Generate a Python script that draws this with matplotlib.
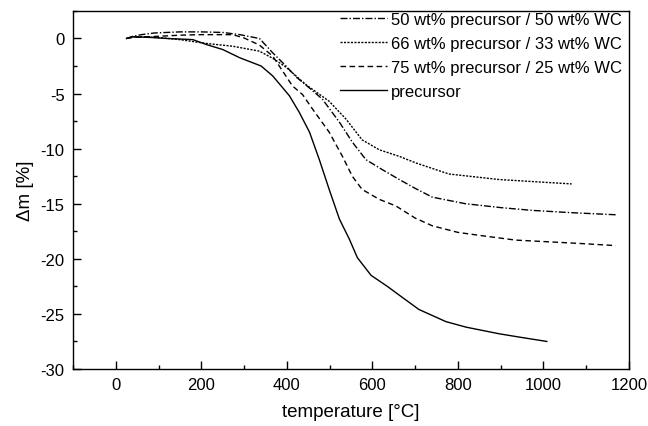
import matplotlib
matplotlib.use("Agg")
import matplotlib.pyplot as plt
from matplotlib.ticker import MultipleLocator

plt.rcParams['font.family'] = ['Liberation Sans', 'DejaVu Sans']
plt.rcParams['axes.unicode_minus'] = False

# 50 wt% precursor / 50 wt% WC (dash-dot)
t_5050 = [25, 40, 60, 90, 150, 200, 250, 290, 336, 367, 398, 422, 450, 483, 523, 553, 585, 623, 663, 700, 740, 818, 900, 973, 1060, 1169]
m_5050 = [0.0, 0.2, 0.35, 0.5, 0.6, 0.6, 0.55, 0.35, 0.0, -1.3, -2.5, -3.5, -4.4, -5.5, -7.6, -9.4, -11.0, -11.9, -12.8, -13.6, -14.4, -15.0, -15.35, -15.6, -15.8, -16.0]

# 66 wt% precursor / 33 wt% WC (dotted)
t_6633 = [25, 40, 70, 110, 149, 212, 273, 336, 367, 398, 445, 499, 538, 576, 616, 663, 702, 779, 896, 980, 1066]
m_6633 = [0.0, 0.15, 0.15, 0.05, -0.1, -0.45, -0.7, -1.15, -1.8, -2.6, -4.2, -5.7, -7.3, -9.2, -10.1, -10.7, -11.3, -12.3, -12.8, -13.0, -13.2]

# 75 wt% precursor / 25 wt% WC (dashed)
t_7525 = [25, 40, 70, 100, 150, 200, 273, 300, 336, 367, 413, 437, 460, 499, 530, 553, 576, 616, 655, 700, 740, 800, 856, 935, 1083, 1169]
m_7525 = [0.0, 0.1, 0.15, 0.2, 0.3, 0.35, 0.35, 0.05, -0.6, -1.6, -4.3, -5.1, -6.4, -8.5, -10.7, -12.5, -13.7, -14.6, -15.2, -16.3, -17.0, -17.6, -17.9, -18.3, -18.6, -18.8]

# precursor (solid)
t_prec = [25, 40, 80, 120, 180, 212, 250, 290, 340, 367, 406, 429, 453, 476, 499, 523, 546, 565, 597, 635, 670, 709, 772, 819, 896, 943, 1008]
m_prec = [0.0, 0.15, 0.1, 0.0, -0.1, -0.55, -1.0, -1.75, -2.5, -3.4, -5.2, -6.7, -8.5, -11.0, -13.7, -16.4, -18.2, -19.9, -21.5, -22.5, -23.5, -24.6, -25.7, -26.2, -26.8, -27.1, -27.5]

labels = ["50 wt% precursor / 50 wt% WC",
          "66 wt% precursor / 33 wt% WC",
          "75 wt% precursor / 25 wt% WC",
          "precursor"]

fig = plt.figure(figsize=(6.48, 4.27), dpi=100)
ax = fig.add_axes([0.1127, 0.1335, 0.8579, 0.8385])

lw = 1.0
ax.plot(t_5050, m_5050, color='black', lw=lw, linestyle=(0, (5, 1.5, 1, 1.5)), label=labels[0])
ax.plot(t_6633, m_6633, color='black', lw=lw, linestyle=(0, (1.5, 1)), label=labels[1])
ax.plot(t_7525, m_7525, color='black', lw=lw, linestyle=(0, (4, 2.5)), label=labels[2])
ax.plot(t_prec, m_prec, color='black', lw=lw, linestyle='-', label=labels[3])

ax.set_xlim(-100, 1200)
ax.set_ylim(-30, 2.5)
ax.xaxis.set_major_locator(MultipleLocator(200))
ax.xaxis.set_minor_locator(MultipleLocator(100))
ax.yaxis.set_major_locator(MultipleLocator(5))
ax.yaxis.set_minor_locator(MultipleLocator(2.5))
ax.tick_params(which='both', direction='in', top=False, right=False, labelsize=12)
ax.tick_params(which='major', length=6, width=1)
ax.tick_params(which='minor', length=3, width=1)
ax.tick_params(axis='x', pad=6)
ax.tick_params(axis='y', pad=6)
for s in ax.spines.values():
    s.set_linewidth(1.0)

ax.set_xlabel("temperature [°C]", fontsize=13.5, labelpad=8)
ax.set_ylabel("Δm [%]", fontsize=13.5, labelpad=5)

leg = ax.legend(loc='upper right', frameon=False, fontsize=12, handlelength=2.8,
                handletextpad=0.25, labelspacing=0.55, borderpad=0.2,
                borderaxespad=0.2, bbox_to_anchor=(1.0, 1.017))

fig.savefig("out.png", dpi=100)
